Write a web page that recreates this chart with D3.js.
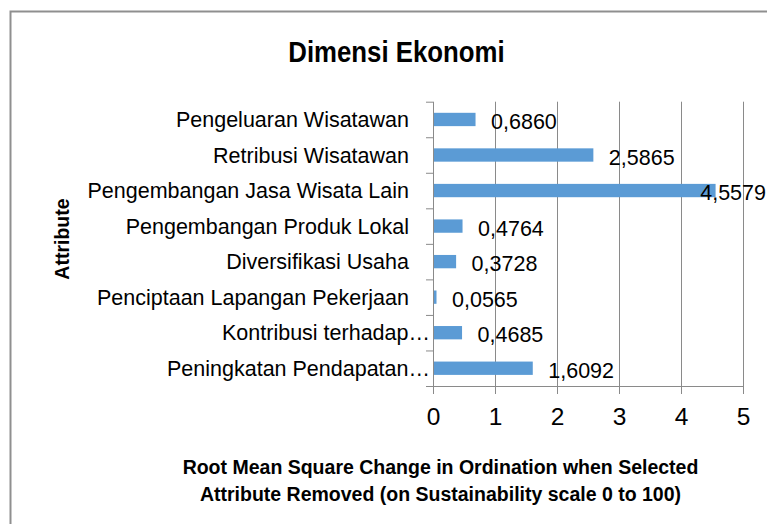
<!DOCTYPE html>
<html>
<head>
<meta charset="utf-8">
<script src="https://cdn.jsdelivr.net/npm/d3@7"></script>
<style>
  html, body { margin: 0; padding: 0; background: #fff; }
  svg { display: block; font-family: "Liberation Sans", Arial, sans-serif; }
</style>
</head>
<body>
<svg id="chart" width="767" height="524"></svg>
<script>
// ---- data ----
const categories = [
  "Pengeluaran Wisatawan",
  "Retribusi Wisatawan",
  "Pengembangan Jasa Wisata Lain",
  "Pengembangan Produk Lokal",
  "Diversifikasi Usaha",
  "Penciptaan Lapangan Pekerjaan",
  "Kontribusi terhadap…",
  "Peningkatan Pendapatan…"
];
const values = [0.6860, 2.5865, 4.5579, 0.4764, 0.3728, 0.0565, 0.4685, 1.6092];
const xTicks = [0, 1, 2, 3, 4, 5];
const title = "Dimensi Ekonomi";
const yTitle = "Attribute";
const xTitleLines = [
  "Root Mean Square Change in Ordination when Selected",
  "Attribute Removed (on Sustainability scale 0 to 100)"
];

// ---- layout ----
const svg = d3.select("#chart");
const W = 767, H = 524;
const plot = { left: 433, right: 743, top: 101.7, bottom: 386 };
const gridColor = "#8a8a8a";
const barColor = "#5B9BD5";

// outer chart border (extends beyond the frame on right/bottom)
svg.append("rect")
  .attr("x", 10.5).attr("y", 11.5)
  .attr("width", 900).attr("height", 700)
  .attr("fill", "none").attr("stroke", "#8f8f8f").attr("stroke-width", 2);

const x = d3.scaleLinear().domain([0, 5]).range([plot.left, plot.right]);
const y = d3.scaleBand().domain(categories).range([plot.top, plot.bottom]).padding(0);

const data = categories.map((c, i) => ({ cat: c, val: values[i] }));

// gridlines
svg.append("g").selectAll("line")
  .data(xTicks.filter(t => t > 0))
  .join("line")
  .attr("x1", d => x(d) + 0.5).attr("x2", d => x(d) + 0.5)
  .attr("y1", plot.top).attr("y2", plot.bottom)
  .attr("stroke", gridColor).attr("stroke-width", 1);

// bars
const barH = y.bandwidth() * 0.375;
svg.append("g").selectAll("rect")
  .data(data)
  .join("rect")
  .attr("x", x(0))
  .attr("y", d => y(d.cat) + (y.bandwidth() - barH) / 2)
  .attr("width", d => x(d.val) - x(0))
  .attr("height", barH)
  .attr("fill", barColor);

// x axis
const xAxis = d3.axisBottom(x).tickValues(xTicks).tickSize(8).tickPadding(14)
  .tickFormat(d3.format("d"));
const gx = svg.append("g").attr("transform", `translate(0,${plot.bottom})`).call(xAxis);
gx.select(".domain").attr("stroke", gridColor).attr("d", `M${plot.left - 7},0.5H${plot.right}`);
gx.selectAll(".tick line").attr("stroke", gridColor);
gx.selectAll(".tick text")
  .attr("font-family", "Liberation Sans, Arial, sans-serif")
  .attr("font-size", "24.5px").attr("fill", "#000");

// y axis: ticks at band boundaries
const bounds = categories.map(c => y(c)).concat([plot.bottom]);
const gy = svg.append("g");
gy.append("line")
  .attr("x1", plot.left + 0.5).attr("x2", plot.left + 0.5)
  .attr("y1", plot.top).attr("y2", plot.bottom)
  .attr("stroke", gridColor);
gy.selectAll("line.tk").data(bounds).join("line").attr("class", "tk")
  .attr("x1", plot.left - 7).attr("x2", plot.left)
  .attr("y1", d => d + 0.5).attr("y2", d => d + 0.5)
  .attr("stroke", gridColor);

// category labels
svg.append("g").selectAll("text")
  .data(categories)
  .join("text")
  .attr("x", d => d.endsWith("…") ? plot.left - 3 : plot.left - 24)
  .attr("y", d => y(d) + y.bandwidth() / 2)
  .attr("dy", "0.36em")
  .attr("text-anchor", "end")
  .attr("font-size", "21.5px")
  .attr("fill", "#000")
  .text(d => d);

// value labels (comma decimal)
const loc = d3.formatLocale({ decimal: ",", thousands: ".", grouping: [3], currency: ["", ""] });
const fmt = loc.format(".4f");
const vl = svg.append("g").selectAll("text")
  .data(data)
  .join("text")
  .attr("y", d => y(d.cat) + y.bandwidth() / 2 + 2)
  .attr("dy", "0.36em")
  .attr("font-size", "21.5px")
  .attr("fill", "#000")
  .text(d => fmt(d.val));
vl.each(function(d) {
  const w = this.getComputedTextLength();
  const pos = Math.min(x(d.val) + 15.5, W - 1 - w);
  d3.select(this).attr("x", pos);
});

// title
svg.append("text")
  .attr("transform", `translate(396.5,61.7) scale(0.86,1)`)
  .attr("text-anchor", "middle")
  .attr("font-size", "30px").attr("font-weight", "bold")
  .attr("fill", "#000")
  .text(title);

// y axis title
svg.append("text")
  .attr("transform", "translate(69,239) rotate(-90)")
  .attr("text-anchor", "middle")
  .attr("font-size", "19.5px").attr("font-weight", "bold")
  .attr("fill", "#000")
  .text(yTitle);

// x axis title
svg.append("g").selectAll("text")
  .data(xTitleLines)
  .join("text")
  .attr("x", 440.5)
  .attr("y", (d, i) => 474 + i * 27)
  .attr("text-anchor", "middle")
  .attr("font-size", "19.5px").attr("font-weight", "bold")
  .attr("fill", "#000")
  .text(d => d);
</script>
</body>
</html>
